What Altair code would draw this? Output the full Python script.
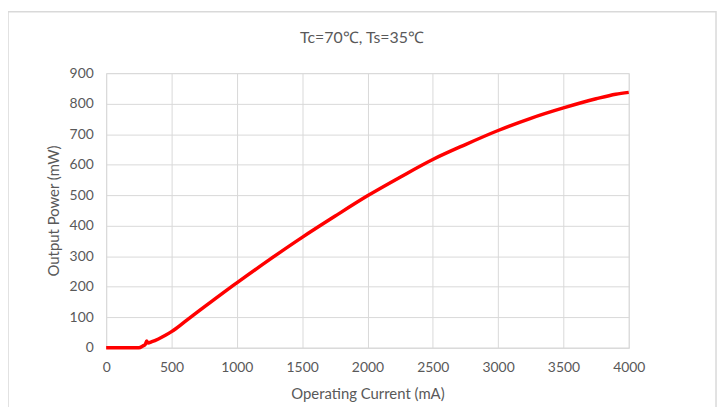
import altair as alt
import pandas as pd

current_ma = [0, 100, 200, 250, 280, 300, 310, 320, 350, 400, 450, 500, 600, 700, 800, 900, 1000,
              1250, 1500, 1750, 2000, 2250, 2500, 2750, 3000, 3250, 3500, 3750, 3900, 4000]
power_mw = [0, 0, 0, 0, 6, 12, 22, 16, 20, 29, 40, 53, 85, 118, 150, 182, 213,
            289, 362, 431, 498, 559, 617, 666, 712, 752, 786, 816, 831, 837]

x_ticks = [0, 500, 1000, 1500, 2000, 2500, 3000, 3500, 4000]
y_ticks = [0, 100, 200, 300, 400, 500, 600, 700, 800, 900]
title_text = ["Tc=70℃, Ts=35℃"]

df = pd.DataFrame({"current": current_ma, "power": power_mw})

FONT = "Lato"
TXT = "#595959"
GRID = "#d9d9d9"

line = alt.Chart(df).mark_line(color="#ff0000", strokeWidth=3.5, interpolate="monotone").encode(
    x=alt.X("current:Q", scale=alt.Scale(domain=[0, 4000], nice=False),
            axis=alt.Axis(values=x_ticks, format="d", title="Operating Current (mA)", grid=True,
                          gridColor=GRID, domainColor=GRID, ticks=False, labelPadding=13,
                          titlePadding=12, labelFontSize=14, titleFontSize=15, labelFlush=False,
                          labelColor=TXT, titleColor=TXT, titleFontWeight="normal",
                          labelFont=FONT, titleFont=FONT)),
    y=alt.Y("power:Q", scale=alt.Scale(domain=[0, 900], nice=False),
            axis=alt.Axis(values=y_ticks, title="Output Power (mW)", grid=True,
                          gridColor=GRID, domain=False, ticks=False, labelPadding=13,
                          titlePadding=8, labelFontSize=14, titleFontSize=15,
                          labelColor=TXT, titleColor=TXT, titleFontWeight="normal",
                          labelFont=FONT, titleFont=FONT)),
)

border = alt.Chart(pd.DataFrame({"a": [0]})).mark_rect(filled=False, stroke=GRID, strokeWidth=1.5).encode(
    x=alt.value(-99), x2=alt.value(615), y=alt.value(-62), y2=alt.value(360)
)

title = alt.Chart(pd.DataFrame({"t": title_text})).mark_text(
    fontSize=16, font=FONT, color=TXT, align="center", baseline="middle"
).encode(text="t:N", x=alt.value(258), y=alt.value(-35))

chart = alt.layer(border, line, title).properties(
    width=527, height=277,
    autosize=alt.AutoSizeParams(type="none"),
    padding={"left": 99, "top": 64, "right": 90, "bottom": 58},
).configure_view(stroke=None).configure(background="white")

chart.save("out.html", embed_options={"renderer": "svg", "actions": False})
